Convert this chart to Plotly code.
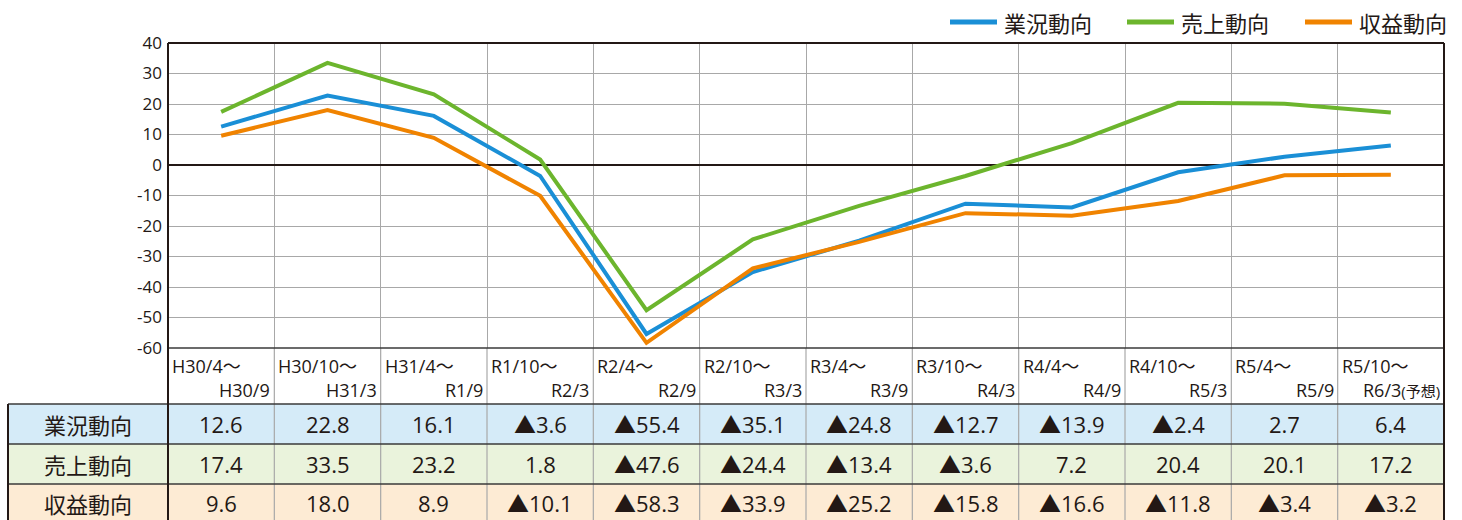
import plotly.graph_objects as go

categories_top = ["H30/4～", "H30/10～", "H31/4～", "R1/10～", "R2/4～", "R2/10～",
                  "R3/4～", "R3/10～", "R4/4～", "R4/10～", "R5/4～", "R5/10～"]
categories_bottom = ["H30/9", "H31/3", "R1/9", "R2/3", "R2/9", "R3/3",
                     "R3/9", "R4/3", "R4/9", "R5/3", "R5/9", "R6/3"]
last_note = "(予想)"

gyoukyou = [12.6, 22.8, 16.1, -3.6, -55.4, -35.1, -24.8, -12.7, -13.9, -2.4, 2.7, 6.4]
uriage = [17.4, 33.5, 23.2, 1.8, -47.6, -24.4, -13.4, -3.6, 7.2, 20.4, 20.1, 17.2]
shueki = [9.6, 18.0, 8.9, -10.1, -58.3, -33.9, -25.2, -15.8, -16.6, -11.8, -3.4, -3.2]

series_names = ["業況動向", "売上動向", "収益動向"]
series_values = [gyoukyou, uriage, shueki]
line_colors = ["#1a8fd6", "#6cb52d", "#f08300"]
row_fills = ["#d5ebf8", "#eaf3dc", "#fdebd4"]

y_tickvals = [40, 30, 20, 10, 0, -10, -20, -30, -40, -50, -60]
y_ticktext = ["40", "30", "20", "10", "0", "-10", "-20", "-30", "-40", "-50", "-60"]

W, H = 1462, 520
FONT = "Open Sans, Noto Sans CJK JP"
JFONT = "Noto Sans CJK JP"
TXT = "#231815"

def px(x):
    return x / W

def py(y):
    return 1 - y / H

PL, PR, PT, PB = 168, 1444, 43, 348
n = len(categories_top)
xs = list(range(n))

fig = go.Figure()
for name, vals, col in zip(series_names, series_values, line_colors):
    fig.add_trace(go.Scatter(x=xs, y=vals, mode="lines", name=name,
                             line=dict(color=col, width=4), showlegend=False))

shapes = []
annotations = []

# row backgrounds
row_edges = [404, 444, 484, 540]
for i, fill in enumerate(row_fills):
    shapes.append(dict(type="rect", xref="paper", yref="paper",
                       x0=px(8), x1=px(PR), y0=py(row_edges[i + 1]), y1=py(row_edges[i]),
                       fillcolor=fill, line=dict(width=0), layer="below"))

# vertical gridlines through labels and table
for k in range(1, n):
    shapes.append(dict(type="line", xref="x", yref="paper", x0=k - 0.5, x1=k - 0.5,
                       y0=py(PB), y1=py(540), line=dict(color="#a8a8a8", width=1.2)))

# horizontal table lines
for yy in [404, 444, 484]:
    shapes.append(dict(type="line", xref="paper", yref="paper", x0=px(8), x1=px(PR),
                       y0=py(yy), y1=py(yy), line=dict(color="#3a3a3a", width=1.5)))
shapes.append(dict(type="line", xref="paper", yref="paper", x0=px(PL), x1=px(PR),
                   y0=py(PB), y1=py(PB), line=dict(color="#3a3a3a", width=1.5)))
shapes.append(dict(type="line", xref="paper", yref="paper", x0=px(PL), x1=px(PR),
                   y0=py(PT), y1=py(PT), line=dict(color="#231815", width=2)))
shapes.append(dict(type="line", xref="paper", yref="paper", x0=px(PL), x1=px(PL),
                   y0=py(PT), y1=py(540), line=dict(color="#231815", width=2)))
shapes.append(dict(type="line", xref="paper", yref="paper", x0=px(PR), x1=px(PR),
                   y0=py(PT), y1=py(540), line=dict(color="#231815", width=2)))
shapes.append(dict(type="line", xref="paper", yref="paper", x0=px(8), x1=px(8),
                   y0=py(404), y1=py(540), line=dict(color="#231815", width=2)))

# manual legend (top right)
leg_x = [950, 1127, 1305]
for name, col, lx in zip(series_names, line_colors, leg_x):
    shapes.append(dict(type="line", xref="paper", yref="paper", x0=px(lx), x1=px(lx + 47),
                       y0=py(22), y1=py(22), line=dict(color=col, width=5)))
    annotations.append(dict(xref="paper", yref="paper", x=px(lx + 52), y=py(22), text=name,
                            showarrow=False, xanchor="left", yanchor="middle",
                            font=dict(family=JFONT, size=22, color=TXT)))

# x category labels (two lines)
cw = (PR - PL) / n
for i in range(n):
    left = PL + cw * i
    annotations.append(dict(xref="paper", yref="paper", x=px(left + 2), y=py(366),
                            text=categories_top[i], showarrow=False, xanchor="left",
                            yanchor="middle", font=dict(family=FONT, size=18, color=TXT)))
    bottom_text = categories_bottom[i]
    if i == n - 1:
        bottom_text = bottom_text + f"<span style='font-size:15px'>{last_note}</span>"
    annotations.append(dict(xref="paper", yref="paper", x=px(left + cw - 2), y=py(390),
                            text=bottom_text, showarrow=False, xanchor="right",
                            yanchor="middle", font=dict(family=FONT, size=18, color=TXT)))

# table text
def fmt(v):
    return ("▲" + f"{abs(v):.1f}") if v < 0 else f"{v:.1f}"

row_centers = [424, 464, 503]
for r, (name, vals) in enumerate(zip(series_names, series_values)):
    yc = row_centers[r]
    annotations.append(dict(xref="paper", yref="paper", x=px(88), y=py(yc), text=name,
                            showarrow=False, xanchor="center", yanchor="middle",
                            font=dict(family=JFONT, size=22, color=TXT)))
    for i, v in enumerate(vals):
        annotations.append(dict(xref="x", yref="paper", x=i, y=py(yc), text=fmt(v),
                                showarrow=False, xanchor="center", yanchor="middle",
                                font=dict(family=FONT, size=22, color=TXT)))

fig.update_layout(
    width=W, height=H,
    margin=dict(l=0, r=0, t=0, b=0, autoexpand=False),
    paper_bgcolor="white", plot_bgcolor="white",
    font=dict(family=FONT, color=TXT),
    xaxis=dict(domain=[px(PL), px(PR)], range=[-0.5, n - 0.5],
               tickvals=[k + 0.5 for k in range(n - 1)], showticklabels=False,
               showgrid=True, gridcolor="#a8a8a8", gridwidth=1.2, zeroline=False,
               ticks="", showline=False),
    yaxis=dict(domain=[py(PB), py(PT)], range=[-60, 40],
               tickvals=y_tickvals, ticktext=y_ticktext,
               showgrid=True, gridcolor="#a8a8a8", gridwidth=1.2,
               zeroline=True, zerolinecolor="#231815", zerolinewidth=1.5,
               tickfont=dict(family=FONT, size=17, color=TXT), ticks="",
               ticklabelstandoff=5, showline=False),
    shapes=shapes, annotations=annotations, showlegend=False,
)

fig.write_html("out.html", config={"displayModeBar": False},
               post_script="document.body.style.margin='0';")
